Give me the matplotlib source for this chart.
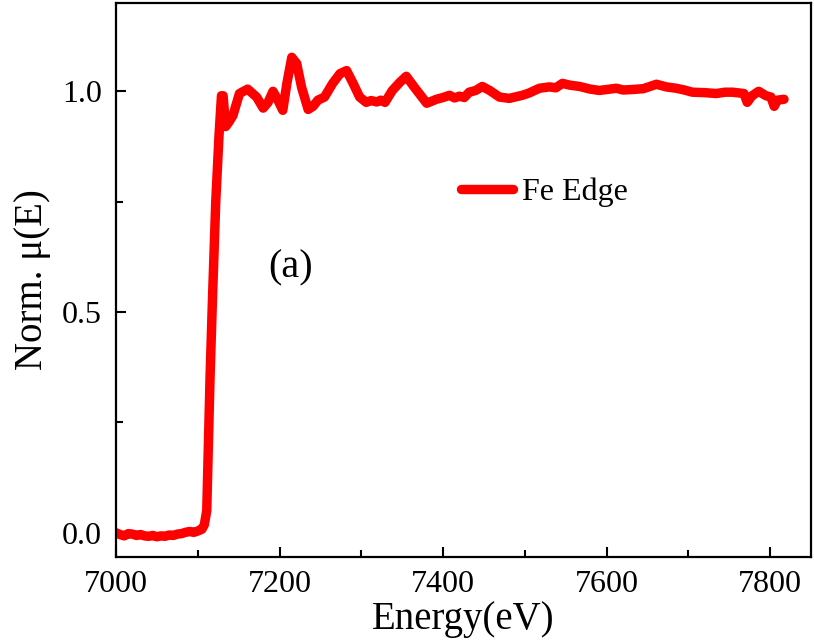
import matplotlib.pyplot as plt
from matplotlib.ticker import MultipleLocator

# Fe K-edge XANES
energia = [7000, 7005, 7010, 7015, 7020, 7025, 7030, 7035, 7040, 7045,
           7050, 7055, 7060, 7065, 7070, 7075, 7080, 7085, 7090, 7095,
           7100, 7105, 7108, 7111, 7113, 7115, 7118, 7122, 7126, 7129,
           7131, 7134, 7138, 7143, 7151, 7161, 7172, 7180, 7186, 7192,
           7198, 7204, 7209, 7215, 7221, 7227, 7235, 7241, 7247, 7255,
           7265, 7274, 7282, 7290, 7298, 7306, 7312, 7319, 7324, 7329,
           7338, 7347, 7355, 7365, 7380, 7392, 7400, 7408, 7414, 7420,
           7426, 7432, 7440, 7448, 7457, 7469, 7481, 7490, 7497, 7505,
           7518, 7530, 7538, 7546, 7555, 7567, 7580, 7591, 7600, 7612,
           7620, 7631, 7645, 7661, 7673, 7685, 7695, 7705, 7720, 7734,
           7745, 7754, 7768, 7772, 7778, 7786, 7795, 7801, 7805, 7809,
           7817]
mu = [0.000, -0.004, -0.007, -0.002, -0.003, -0.006, -0.004, -0.007, -0.008, -0.006,
      -0.009, -0.007, -0.008, -0.005, -0.006, -0.003, -0.002, 0.001, 0.003, 0.001,
      0.004, 0.008, 0.018, 0.050, 0.200, 0.350, 0.530, 0.750, 0.900, 0.990,
      0.990, 0.920, 0.930, 0.945, 0.995, 1.005, 0.987, 0.962, 0.975, 1.000,
      0.980, 0.957, 1.018, 1.077, 1.063, 1.009, 0.959, 0.966, 0.980, 0.987,
      1.018, 1.040, 1.047, 1.018, 0.987, 0.975, 0.979, 0.976, 0.980, 0.975,
      1.002, 1.020, 1.034, 1.009, 0.973, 0.982, 0.986, 0.991, 0.985, 0.989,
      0.986, 0.998, 1.002, 1.011, 1.002, 0.987, 0.984, 0.988, 0.991, 0.996,
      1.007, 1.010, 1.008, 1.018, 1.014, 1.011, 1.005, 1.002, 1.004, 1.007,
      1.003, 1.004, 1.006, 1.016, 1.010, 1.007, 1.003, 0.998, 0.997, 0.995,
      0.998, 0.998, 0.995, 0.975, 0.990, 1.000, 0.990, 0.987, 0.966, 0.980,
      0.982]

plt.rcParams['font.family'] = ['Liberation Serif', 'DejaVu Serif']

fig = plt.figure(figsize=(8.14, 6.44), dpi=100)
ax = fig.add_axes([0.1425, 0.135, 0.8538, 0.8603])

linea, = ax.plot(energia, mu, color='#ff0000', linewidth=6.8, label='Fe Edge',
                 solid_capstyle='round', solid_joinstyle='round')

ax.set_xlim(7000, 7850)
ax.set_ylim(-0.055, 1.2)
ax.xaxis.set_major_locator(MultipleLocator(200))
ax.xaxis.set_minor_locator(MultipleLocator(100))
ax.yaxis.set_major_locator(MultipleLocator(0.5))
ax.yaxis.set_minor_locator(MultipleLocator(0.25))
ax.yaxis.set_major_formatter(plt.FormatStrFormatter('%.1f'))

ax.tick_params(which='major', direction='in', length=7, width=1.5, labelsize=23)
ax.tick_params(which='minor', direction='in', length=5, width=1.5)
ax.tick_params(axis='x', which='major', pad=9)
ax.tick_params(axis='y', which='major', pad=10)
for s in ax.spines.values():
    s.set_linewidth(1.6)

ax.set_xlabel('Energy(eV)', fontsize=28, labelpad=2)
ax.set_ylabel('Norm. μ(E)', fontsize=28, labelpad=8)

leg = ax.legend(loc='center left', bbox_to_anchor=(0.497, 0.659), frameon=False,
                fontsize=23, handlelength=1.6, handletextpad=0.3,
                borderpad=0, borderaxespad=0)
for l in leg.get_lines():
    l.set_solid_capstyle('round')

ax.text(7186, 0.60, '(a)', fontsize=29, ha='left', va='center')

fig.savefig('out.png', dpi=100)
